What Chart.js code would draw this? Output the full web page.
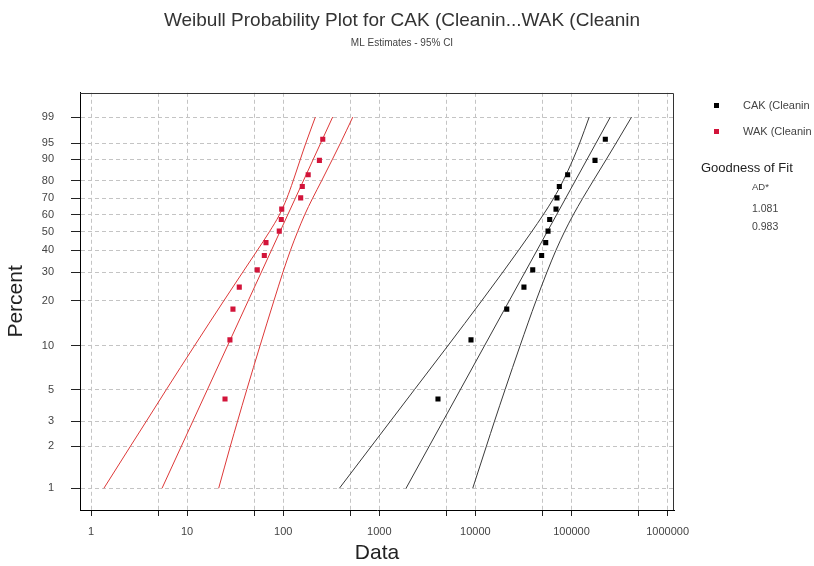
<!DOCTYPE html>
<html>
<head>
<meta charset="utf-8">
<title>Weibull Probability Plot</title>
<script src="https://cdn.jsdelivr.net/npm/chart.js@4.4.1/dist/chart.umd.min.js"></script>
<style>
  body { margin: 0; background: #fff; font-family: "Liberation Sans", Arial, sans-serif; }
  #wrap { position: relative; width: 814px; height: 566px; }
  #plot { position: absolute; left: 0; top: 0; }
  .side { position: absolute; white-space: nowrap; color: #444; font-size: 11px; line-height: 14px; }
  .mark { position: absolute; width: 5px; height: 5px; }
</style>
</head>
<body>
<div id="wrap">
  <canvas id="plot" width="804" height="566"></canvas>
  <span class="mark" style="left:714px;top:103px;background:#000"></span>
  <div class="side" style="left:743px;top:98px">CAK (Cleanin</div>
  <span class="mark" style="left:714px;top:129px;background:#d2143a"></span>
  <div class="side" style="left:743px;top:124px">WAK (Cleanin</div>
  <div class="side" style="left:701px;top:160px;font-size:13px;line-height:16px;color:#222">Goodness of Fit</div>
  <div class="side" style="left:752px;top:180px;font-size:9.5px">AD*</div>
  <div class="side" style="left:752px;top:201px;font-size:10.5px">1.081</div>
  <div class="side" style="left:752px;top:219px;font-size:10.5px">0.983</div>
</div>
<script>
// 目盛り
const yTickPercent = [1, 2, 3, 5, 10, 20, 30, 40, 50, 60, 70, 80, 90, 95, 99];
const yTickLabels = ['1', '2', '3', '5', '10', '20', '30', '40', '50', '60', '70', '80', '90', '95', '99'];
const xTickValues = [1, 5, 10, 50, 100, 500, 1000, 5000, 10000, 50000, 100000, 500000, 1000000];
const xTickLabels = ['1', '', '10', '', '100', '', '1000', '', '10000', '', '100000', '', '1000000'];

// プロット点の累積確率 (%)
const rankPercent = [4.3, 11.0, 17.6, 24.3, 30.9, 37.4, 44.0, 50.4, 57.2, 63.5, 70.3, 76.9, 83.1, 89.5, 95.9];
const cakData = [4080, 9000, 21200, 32000, 39500, 48900, 53900, 57000, 59300, 69000, 70600, 74700, 91200, 175700, 224900];
const wakData = [24.8, 27.9, 30.0, 34.9, 53.7, 63.6, 66.2, 91, 95.5, 96.5, 152, 158, 182, 238, 258];

// 当てはめ直線 (1% と 99%)
const fitPercent = [1, 99];
const cakFit = [1897, 253500];
const wakFit = [5.48, 327];

// 95% 信頼区間 (yTickPercent の各水準で読み取り)
const cakLower = [384, 830, 1306, 2323, 5152, 11690, 19320, 28120, 38460, 50700, 65160, 81850, 104000, 121600, 152800];
const cakUpper = [9376, 13030, 15810, 20370, 29110, 42850, 55590, 68870, 84530, 104200, 130600, 168300, 231200, 291100, 421700];
const wakLower = [1.36, 2.58, 3.77, 6.08, 11.9, 24.2, 38.0, 53.8, 71.8, 91.2, 109, 127, 151, 172, 216];
const wakUpper = [21.3, 28.2, 33.5, 41.8, 57.3, 80.2, 99.5, 119, 141, 167, 202, 251, 326, 394, 530];

const FONT = '"Liberation Sans", Arial, sans-serif';

// ワイブル確率目盛りへの変換
function toWeibull(p) {
    return Math.log(-Math.log(1 - p / 100));
}

// 値と確率から点列を作る
function makePoints(values, percents) {
    return values.map((v, i) => ({ x: v, y: toWeibull(percents[i]) }));
}

function lineSet(values, percents, color, smooth) {
    return {
        data: makePoints(values, percents),
        showLine: true,
        borderColor: color,
        borderWidth: 1,
        pointRadius: 0,
        cubicInterpolationMode: smooth ? 'monotone' : 'default',
        fill: false
    };
}

// 枠線 (上・右)
const framePlugin = {
    id: 'frame',
    afterDraw(chart) {
        const { ctx, chartArea: a } = chart;
        const top = Math.round(a.top) + 0.5;
        const right = Math.round(a.right) - 0.5;
        ctx.save();
        ctx.strokeStyle = '#333';
        ctx.lineWidth = 1;
        ctx.beginPath();
        ctx.moveTo(Math.round(a.left), top);
        ctx.lineTo(right, top);
        ctx.lineTo(right, Math.round(a.bottom));
        ctx.stroke();
        ctx.restore();
    }
};

function renderProbabilityPlot() {
    const ctx = document.getElementById('plot').getContext('2d');
    return new Chart(ctx, {
        type: 'scatter',
        data: {
            datasets: [
                { label: 'CAK (Cleanin', data: makePoints(cakData, rankPercent), pointStyle: 'rect', pointRadius: 3.6, backgroundColor: '#000', borderWidth: 0 },
                { label: 'WAK (Cleanin', data: makePoints(wakData, rankPercent), pointStyle: 'rect', pointRadius: 3.6, backgroundColor: '#d2143a', borderWidth: 0 },
                lineSet(cakFit, fitPercent, '#3a3a3a', false),
                lineSet(cakLower, yTickPercent, '#3a3a3a', true),
                lineSet(cakUpper, yTickPercent, '#3a3a3a', true),
                lineSet(wakFit, fitPercent, '#dd3838', false),
                lineSet(wakLower, yTickPercent, '#dd3838', true),
                lineSet(wakUpper, yTickPercent, '#dd3838', true)
            ]
        },
        options: {
            responsive: false,
            devicePixelRatio: 1,
            animation: false,
            layout: { padding: 0 },
            scales: {
                x: {
                    type: 'logarithmic',
                    bounds: 'data',
                    min: 0.768,
                    max: 1166000,
                    afterBuildTicks: (scale) => { scale.ticks = xTickValues.map(v => ({ value: v })); },
                    afterFit: (scale) => { scale.height = 56; },
                    ticks: {
                        autoSkip: false,
                        maxRotation: 0,
                        padding: 9,
                        color: '#444',
                        font: { family: FONT, size: 11 },
                        callback: (value, index) => xTickLabels[index]
                    },
                    grid: { color: '#c4c4c4', tickLength: 6, tickColor: '#222' },
                    border: { display: true, color: '#000', width: 1, dash: [4, 3] },
                    title: { display: true, text: 'Data', color: '#222', font: { family: FONT, size: 21 }, padding: { top: 0, bottom: 0 } }
                },
                y: {
                    type: 'linear',
                    min: -4.958,
                    max: 1.928,
                    afterBuildTicks: (scale) => { scale.ticks = yTickPercent.map(p => ({ value: toWeibull(p) })); },
                    afterFit: (scale) => { scale.width = 80; },
                    ticks: {
                        autoSkip: false,
                        padding: 17,
                        color: '#444',
                        font: { family: FONT, size: 11 },
                        callback: (value, index) => yTickLabels[index]
                    },
                    grid: { color: '#c4c4c4', tickLength: 9, tickColor: '#222' },
                    border: { display: true, color: '#000', width: 1, dash: [4, 3] },
                    title: { display: true, text: 'Percent', color: '#222', font: { family: FONT, size: 21 }, padding: { top: 4, bottom: 0 } }
                },
                // 右側の余白 (凡例の場所)
                y2: {
                    type: 'linear',
                    position: 'right',
                    afterFit: (scale) => { scale.width = 130; },
                    ticks: { display: false },
                    grid: { display: false, drawTicks: false },
                    border: { display: false }
                }
            },
            plugins: {
                legend: { display: false },
                tooltip: { enabled: false },
                title: {
                    display: true,
                    text: 'Weibull Probability Plot for CAK (Cleanin...WAK (Cleanin',
                    color: '#333',
                    font: { family: FONT, size: 19, weight: 'normal' },
                    padding: { top: 9, bottom: 5 }
                },
                subtitle: {
                    display: true,
                    text: 'ML Estimates - 95% CI',
                    color: '#444',
                    font: { family: FONT, size: 10 },
                    padding: { top: 0, bottom: 44 }
                }
            }
        },
        plugins: [framePlugin]
    });
}

renderProbabilityPlot();
</script>
</body>
</html>
